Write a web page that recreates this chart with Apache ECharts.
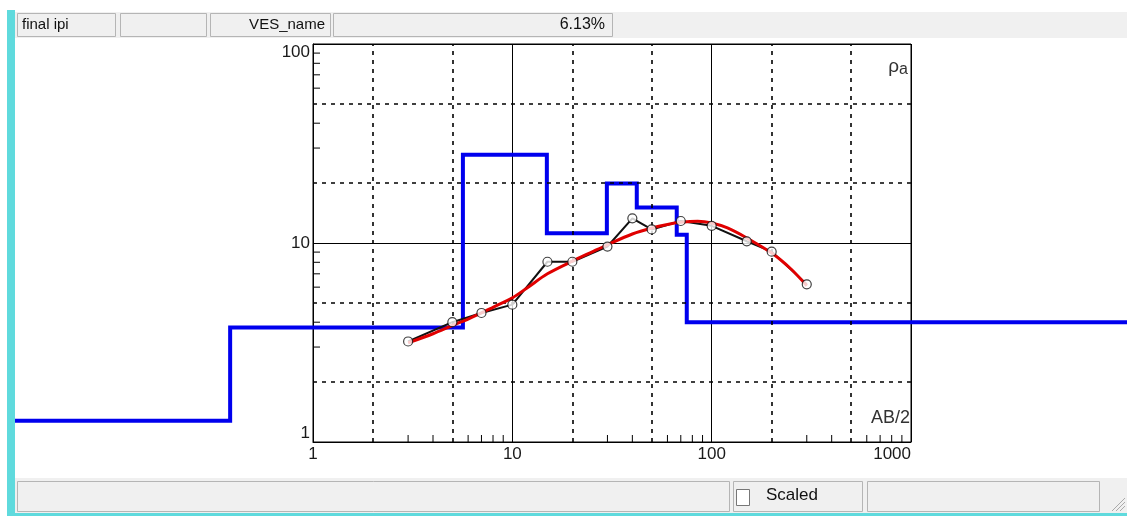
<!DOCTYPE html>
<html>
<head>
<meta charset="utf-8">
<title>VES final ipi</title>
<script src="https://cdn.jsdelivr.net/npm/echarts@6/dist/echarts.min.js"></script>
<style>
  html, body { margin: 0; padding: 0; background: #fff; }
  #main { width: 1127px; height: 516px; }
</style>
</head>
<body>
<div id="main"></div>
<script>
// observed apparent resistivity (AB/2, rho_a)
const abHalf = [3, 5, 7, 10, 15, 20, 30, 40, 50, 70, 100, 150, 200, 300];
const rhoObs = [3.2, 4.0, 4.45, 4.9, 8.05, 8.05, 9.6, 13.3, 11.7, 12.9, 12.2, 10.2, 9.05, 6.2];

// calculated curve
const abCalc = [3, 4, 5, 6, 7, 8, 10, 12, 15, 20, 25, 30, 40, 50, 60, 70, 85, 100, 120, 150, 200, 250, 300];
const rhoCalc = [3.15, 3.5, 3.85, 4.15, 4.45, 4.75, 5.3, 6.0, 7.0, 8.1, 9.0, 9.8, 11.1, 11.9, 12.4, 12.7, 12.85, 12.6, 11.9, 10.6, 8.9, 7.4, 6.1];

// layered model: resistivity of each layer and depth of its bottom
const layerRho = [1.28, 3.76, 27.8, 11.2, 19.9, 15.1, 11.0, 4.0];
const layerBottom = [0.384, 5.65, 14.9, 29.8, 42.1, 66.8, 75.0];

// axis ticks / labels
const xTickLabels = ['1', '10', '100', '1000'];
const yTickLabels = ['1', '10', '100'];
const xDashed = [2, 5, 20, 50, 200, 500];
const yDashed = [2, 5, 20, 50];
const xMinorTicks = [3, 4, 6, 7, 8, 9, 30, 40, 60, 70, 80, 90, 300, 400, 600, 700, 800, 900];
const yMinorTicks = [3, 4, 6, 7, 8, 9, 30, 40, 60, 70, 80, 90];

// plot box
const plotLeft = 313, plotTop = 44, plotW = 598, plotH = 398;
const decadePx = plotW / 3;
// the model line runs past the box, so it gets its own wider grid on the same scale
const wideLeft = 15, wideRight = 1127;
const wideMin = Math.pow(10, -(plotLeft - wideLeft) / decadePx);
const wideMax = Math.pow(10, 3 + (wideRight - plotLeft - plotW) / decadePx);

const modelLine = [];
layerRho.forEach((r, i) => {
  const from = i === 0 ? wideMin : layerBottom[i - 1];
  const to = i === layerRho.length - 1 ? wideMax : layerBottom[i];
  modelLine.push([from, r], [to, r]);
});

const font = '"Liberation Sans", Arial, sans-serif';
const chart = echarts.init(document.getElementById('main'));

function tickLabel(list) {
  return v => list[Math.round(Math.log10(v))] || '';
}

const option = {
  animation: false,
  backgroundColor: '#fff',
  grid: [
    {
      left: plotLeft, top: plotTop, width: plotW, height: plotH,
      show: true, borderColor: '#000', borderWidth: 1, backgroundColor: 'transparent',
      outerBoundsMode: 'none', containLabel: false
    },
    {
      left: wideLeft, top: plotTop, width: wideRight - wideLeft, height: plotH,
      show: false, outerBoundsMode: 'none', containLabel: false
    }
  ],
  xAxis: [
    {
      type: 'log', logBase: 10, min: 1, max: 1000, gridIndex: 0,
      axisLine: { show: true, lineStyle: { color: '#000', width: 1 } },
      axisTick: { show: false },
      splitLine: { show: true, lineStyle: { color: '#000', width: 1, type: 'solid' } },
      axisLabel: {
        show: true, color: '#1a1a1a', fontSize: 17, fontFamily: font, margin: 4,
        alignMaxLabel: 'right', formatter: tickLabel(xTickLabels)
      }
    },
    {
      type: 'log', logBase: 10, min: wideMin, max: wideMax, gridIndex: 1, show: false
    }
  ],
  yAxis: [
    {
      type: 'log', logBase: 10, min: 1, max: 100, gridIndex: 0,
      axisLine: { show: true, lineStyle: { color: '#000', width: 1 } },
      axisTick: { show: false },
      splitLine: { show: true, lineStyle: { color: '#000', width: 1, type: 'solid' } },
      axisLabel: {
        show: true, color: '#1a1a1a', fontSize: 17, fontFamily: font, margin: 3,
        verticalAlignMaxLabel: 'top', verticalAlignMinLabel: 'bottom',
        formatter: tickLabel(yTickLabels)
      }
    },
    {
      type: 'log', logBase: 10, min: 1, max: 100, gridIndex: 1, show: false
    }
  ],
  series: [
    {
      // dashed grid at 2 and 5 of each decade
      type: 'line', xAxisIndex: 0, yAxisIndex: 0, data: [], z: 1,
      markLine: {
        silent: true, symbol: 'none', label: { show: false },
        lineStyle: { color: '#000', width: 1.6, type: [4, 5] },
        data: xDashed.map(v => ({ xAxis: v })).concat(yDashed.map(v => ({ yAxis: v })))
      }
    },
    {
      // minor ticks on the bottom axis
      type: 'custom', xAxisIndex: 0, yAxisIndex: 0, z: 2, silent: true,
      data: xMinorTicks.map(v => [v, 1]),
      renderItem(params, api) {
        const p = api.coord([api.value(0), api.value(1)]);
        return { type: 'line', shape: { x1: p[0], y1: p[1], x2: p[0], y2: p[1] - 7 }, style: { stroke: '#000', lineWidth: 1 } };
      }
    },
    {
      // minor ticks on the left axis
      type: 'custom', xAxisIndex: 0, yAxisIndex: 0, z: 2, silent: true,
      data: yMinorTicks.map(v => [1, v]),
      renderItem(params, api) {
        const p = api.coord([api.value(0), api.value(1)]);
        return { type: 'line', shape: { x1: p[0], y1: p[1], x2: p[0] + 7, y2: p[1] }, style: { stroke: '#000', lineWidth: 1 } };
      }
    },
    {
      name: 'model', type: 'line', xAxisIndex: 1, yAxisIndex: 1, z: 3,
      data: modelLine, showSymbol: false, symbol: 'none',
      lineStyle: { color: '#0000ee', width: 4, join: 'miter' }
    },
    {
      name: 'observed', type: 'line', xAxisIndex: 0, yAxisIndex: 0, z: 4,
      data: abHalf.map((x, i) => [x, rhoObs[i]]), symbol: 'none',
      lineStyle: { color: '#111', width: 2 }
    },
    {
      name: 'calculated', type: 'line', xAxisIndex: 0, yAxisIndex: 0, z: 5,
      data: abCalc.map((x, i) => [x, rhoCalc[i]]), symbol: 'none', smooth: 0.3,
      lineStyle: { color: '#e00000', width: 3 }
    },
    {
      name: 'points', type: 'scatter', xAxisIndex: 0, yAxisIndex: 0, z: 6,
      data: abHalf.map((x, i) => [x, rhoObs[i]]), symbol: 'circle', symbolSize: 9,
      itemStyle: { color: '#fff', borderColor: '#111', borderWidth: 1.2 }
    }
  ],
  graphic: [
    // left and bottom cyan frame
    { type: 'rect', left: 7, top: 10, shape: { width: 8, height: 506 }, style: { fill: '#5fdadd' }, z: 100 },
    { type: 'rect', left: 7, top: 513, shape: { width: 1120, height: 3 }, style: { fill: '#5fdadd' }, z: 100 },
    // header bar
    { type: 'rect', left: 15, top: 12, shape: { width: 1112, height: 26 }, style: { fill: '#f0f0f0' }, z: 100 },
    { type: 'rect', left: 17, top: 13, shape: { width: 98, height: 23 }, style: { fill: '#f0f0f0', stroke: '#b5b5b5', lineWidth: 1 }, z: 101 },
    { type: 'rect', left: 120, top: 13, shape: { width: 86, height: 23 }, style: { fill: '#f0f0f0', stroke: '#b5b5b5', lineWidth: 1 }, z: 101 },
    { type: 'rect', left: 210, top: 13, shape: { width: 120, height: 23 }, style: { fill: '#f0f0f0', stroke: '#b5b5b5', lineWidth: 1 }, z: 101 },
    { type: 'rect', left: 333, top: 13, shape: { width: 279, height: 23 }, style: { fill: '#f0f0f0', stroke: '#b5b5b5', lineWidth: 1 }, z: 101 },
    { type: 'text', left: 22, top: 17, style: { text: 'final ipi', fill: '#111', font: '15px ' + font }, z: 102 },
    { type: 'text', right: 1127 - 325, top: 17, style: { text: 'VES_name', fill: '#111', font: '15px ' + font }, z: 102 },
    { type: 'text', right: 1127 - 605, top: 17, style: { text: '6.13%', fill: '#111', font: '16px ' + font }, z: 102 },
    // axis names inside the box
    {
      type: 'text', right: 1127 - 908, top: 57, z: 102,
      style: {
        text: '{r|ρ}{s|a}', fill: '#333',
        rich: { r: { font: '19px ' + font, fill: '#333' }, s: { font: '16px ' + font, fill: '#333', padding: [6, 0, 0, 0] } }
      }
    },
    { type: 'text', right: 1127 - 910, top: 409, style: { text: 'AB/2', fill: '#333', font: '18px ' + font }, z: 102 },
    // status bar
    { type: 'rect', left: 15, top: 478, shape: { width: 1112, height: 35 }, style: { fill: '#f0f0f0' }, z: 100 },
    { type: 'rect', left: 17, top: 481, shape: { width: 712, height: 30 }, style: { fill: '#f0f0f0', stroke: '#b5b5b5', lineWidth: 1 }, z: 101 },
    { type: 'rect', left: 733, top: 481, shape: { width: 129, height: 30 }, style: { fill: '#f0f0f0', stroke: '#b5b5b5', lineWidth: 1 }, z: 101 },
    { type: 'rect', left: 867, top: 481, shape: { width: 232, height: 30 }, style: { fill: '#f0f0f0', stroke: '#b5b5b5', lineWidth: 1 }, z: 101 },
    { type: 'rect', left: 736, top: 489, shape: { width: 13, height: 16 }, style: { fill: '#fff', stroke: '#777', lineWidth: 1 }, z: 102 },
    { type: 'text', left: 766, top: 487, style: { text: 'Scaled', fill: '#111', font: '17px ' + font }, z: 102 },
    // size grip
    { type: 'line', shape: { x1: 1112, y1: 511, x2: 1125, y2: 498 }, style: { stroke: '#aaa', lineWidth: 1 }, z: 102 },
    { type: 'line', shape: { x1: 1116, y1: 511, x2: 1125, y2: 502 }, style: { stroke: '#aaa', lineWidth: 1 }, z: 102 },
    { type: 'line', shape: { x1: 1120, y1: 511, x2: 1125, y2: 506 }, style: { stroke: '#aaa', lineWidth: 1 }, z: 102 }
  ]
};

chart.setOption(option);
</script>
</body>
</html>
